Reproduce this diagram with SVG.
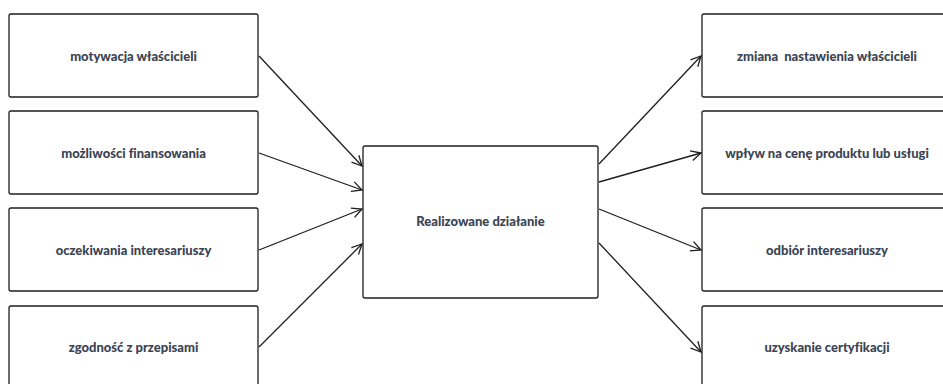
<svg xmlns="http://www.w3.org/2000/svg" width="943" height="384" viewBox="0 0 943 384">
<style>
.box{fill:#fff;stroke:#1e1e1e;stroke-width:1.3}
.lbl{font-family:Lato,"Open Sans","Liberation Sans",sans-serif;font-weight:900;font-size:13px;fill:#3b4453;text-anchor:middle;white-space:pre;font-variant-ligatures:none}
.conn{stroke:#1e1e1e;stroke-width:1.3;fill:none;marker-end:url(#arr)}
</style>
<defs>
<marker id="arr" viewBox="0 0 12 12" refX="11" refY="6" markerWidth="12" markerHeight="12" markerUnits="userSpaceOnUse" orient="auto">
<path d="M1,1 L11,6 L1,11" fill="none" stroke="#1e1e1e" stroke-width="1.3"/>
</marker>
</defs>
<rect width="943" height="384" fill="#fff"/>
<g id="n1"><rect class="box" x="9" y="14" width="249" height="83" rx="2"/><text class="lbl" x="133.5" y="61">motywacja właścicieli</text></g>
<g id="n2"><rect class="box" x="9" y="111" width="249" height="83" rx="2"/><text class="lbl" x="133.5" y="158">możliwości finansowania</text></g>
<g id="n3"><rect class="box" x="9" y="208" width="249" height="83" rx="2"/><text class="lbl" x="133.5" y="255">oczekiwania interesariuszy</text></g>
<g id="n4"><rect class="box" x="9" y="306" width="249" height="90" rx="2"/><text class="lbl" x="133.5" y="352">zgodność z przepisami</text></g>
<g id="c"><rect class="box" x="363" y="146" width="235" height="152" rx="2"/><text class="lbl" x="480.5" y="226">Realizowane działanie</text></g>
<g id="o1"><rect class="box" x="702" y="14" width="250" height="83" rx="2"/><text class="lbl" x="827" y="61" xml:space="preserve">zmiana  nastawienia właścicieli</text></g>
<g id="o2"><rect class="box" x="702" y="111" width="250" height="83" rx="2"/><text class="lbl" x="827" y="158">wpływ na cenę produktu lub usługi</text></g>
<g id="o3"><rect class="box" x="702" y="208" width="250" height="83" rx="2"/><text class="lbl" x="827" y="255">odbiór interesariuszy</text></g>
<g id="o4"><rect class="box" x="702" y="306" width="250" height="90" rx="2"/><text class="lbl" x="827" y="352">uzyskanie certyfikacji</text></g>
<g id="connectors">
<line class="conn" x1="259" y1="56" x2="362" y2="166"/>
<line class="conn" x1="259" y1="153" x2="362" y2="190"/>
<line class="conn" x1="259" y1="250" x2="362" y2="209"/>
<line class="conn" x1="259" y1="347" x2="362" y2="244"/>
<line class="conn" x1="599" y1="164" x2="701" y2="56"/>
<line class="conn" x1="599" y1="182" x2="701" y2="153"/>
<line class="conn" x1="599" y1="209" x2="701" y2="250"/>
<line class="conn" x1="599" y1="243" x2="701" y2="352"/>
</g>
</svg>
